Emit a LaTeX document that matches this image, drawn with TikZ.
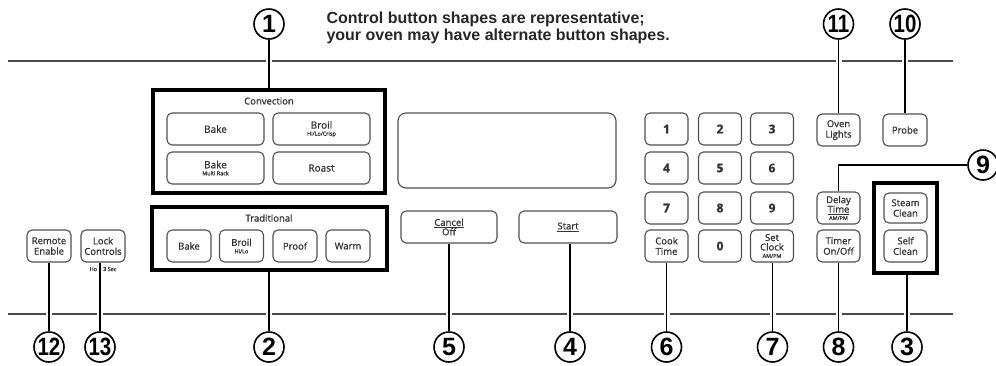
\documentclass[tikz,border=0pt]{standalone}
\usepackage{fontspec}
\setmainfont{Liberation Sans}
\newfontfamily\btnfont[FakeBold=1]{Open Sans}
\usetikzlibrary{calc}

\definecolor{btngray}{HTML}{505050}
\definecolor{txtgray}{HTML}{333333}
\definecolor{panelgray}{HTML}{4A4A4A}

\newcommand{\sub}[1]{{\fontsize{5.5}{6}\selectfont #1}}
\newcommand{\dnum}[1]{\scalebox{0.82}[1]{#1}}

\tikzset{
	btn/.style={draw=btngray, line width=1.1pt, rounded corners=5pt,
		minimum width=44pt, minimum height=32pt, inner sep=0pt, align=center,
		text=txtgray, font=\btnfont\fontsize{9.5}{10.5}\selectfont},
	key/.style={btn, font=\btnfont\bfseries\fontsize{12}{12}\selectfont},
	grp/.style={draw=black, line width=3.2pt, inner sep=0pt},
	num/.style={draw, circle, line width=1.6pt, fill=white, minimum size=30pt,
		inner sep=0pt, font=\bfseries\fontsize{25}{25}\selectfont},
	lead/.style={line width=1.6pt,
		preaction={draw=white, line width=6pt, shorten <=4pt, shorten >=4pt}},
	panel/.style={draw=panelgray, line width=1.3pt},
}

\begin{document}
\begin{tikzpicture}[x=1pt, y=-1pt]
		\useasboundingbox (0,0) rectangle (996,365);
		
		% note
		\node[anchor=north west, align=left, text=black!85,
			font=\bfseries\fontsize{16}{17.5}\selectfont] (note) at (323,8)
			{Control button shapes are representative;\\your oven may have alternate button shapes.};
		
		% panel edges
		\coordinate (TL) at (8,61);
		\coordinate (TR) at (953,61);
		\coordinate (BL) at (8,314);
		\coordinate (BR) at (953,314);
		\draw[panel] (TL) -- (TR);
		\draw[panel] (BL) -- (BR);
		
		% group boxes
		\node[grp, minimum width=232pt, minimum height=103pt] (conv) at (269,141.5) {};
		\node[grp, minimum width=235pt, minimum height=63pt] (trad) at (269.5,238.5) {};
		\node[grp, minimum width=63pt, minimum height=90pt] (clean) at (905.5,228) {};
		
		\node[text=txtgray, font=\btnfont\fontsize{9.5}{10}\selectfont] (convlbl) at (269,101) {Convection};
		\node[text=txtgray, font=\btnfont\fontsize{9.5}{10}\selectfont] (tradlbl) at (269,218) {Traditional};
		
		% convection buttons
		\node[btn, minimum width=97pt, font=\btnfont\fontsize{10}{10}\selectfont] (cbake) at (215.5,129) {Bake};
		\node[btn, minimum width=97pt, font=\btnfont\fontsize{10}{10}\selectfont] (cbroil) at (321.5,129) {Broil\\[-3pt]\sub{Hi/Lo/Crisp}};
		\node[btn, minimum width=97pt, font=\btnfont\fontsize{10}{10}\selectfont] (cmulti) at (215.5,168) {Bake\\[-3pt]\sub{Multi Rack}};
		\node[btn, minimum width=97pt, font=\btnfont\fontsize{10}{10}\selectfont] (croast) at (321.5,168) {Roast};
		
		% traditional buttons
		\node[btn] (tbake) at (189,246) {Bake};
		\node[btn] (tbroil) at (241.5,246) {Broil\\[-3pt]\sub{Hi/Lo}};
		\node[btn] (tproof) at (295,246) {Proof};
		\node[btn] (twarm) at (348,246) {Warm};
		
		% left buttons
		\node[btn] (remote) at (49,246) {Remote\\Enable};
		\node[btn] (lock) at (103,246) {Lock\\Controls};
		\node[text=txtgray, font=\btnfont\fontsize{5.5}{6}\selectfont] (hold) at (103,269) {Hold 3 Sec};
		
		% display and start/cancel
		\node[draw=btngray, line width=1.1pt, rounded corners=8pt,
			minimum width=218pt, minimum height=75pt] (disp) at (507,150.5) {};
		\node[btn, minimum width=96pt] (cancel) at (449,227) {\underline{Cancel}\\[-1pt]Off};
		\node[btn, minimum width=98pt] (start) at (568,227) {\underline{Start}};
		
		% keypad
		\foreach \k/\col/\row in {1/666.5/129, 2/720/129, 3/772/129,
			4/666.5/168, 5/720/168, 6/772/168,
			7/666.5/208, 8/720/208, 9/772/208, 0/720/246}
			\node[key, minimum width=43pt] (k\k) at (\col,\row) {\k};
		\node[btn, minimum width=43pt] (cook) at (666.5,246) {Cook\\Time};
		\node[btn, minimum width=43pt] (clock) at (772,246) {Set\\[-1pt]Clock\\[-3pt]\sub{AM/PM}};
		
		% right buttons
		\node[btn, minimum width=43pt] (lights) at (838.5,130) {Oven\\Lights};
		\node[btn] (probe) at (905,130) {Probe};
		\node[btn, minimum width=43pt] (delay) at (838.5,208) {Delay\\[-1pt]\underline{Time}\\[-3pt]\sub{AM/PM}};
		\node[btn, minimum width=43pt] (timer) at (838.5,246) {Timer\\On/Off};
		\node[btn, minimum width=43pt, minimum height=30pt] (steam) at (905.5,208) {Steam\\Clean};
		\node[btn, minimum width=43pt] (self) at (905.5,246) {Self\\Clean};
		
		% callout numbers
		\node[num] (n1) at (269,24) {1};
		\node[num] (n11) at (838.5,24) {\dnum{11}};
		\node[num] (n10) at (905,24) {\dnum{10}};
		\node[num] (n9) at (983,165) {9};
		\node[num] (n12) at (49,347) {\dnum{12}};
		\node[num] (n13) at (100,347) {\dnum{13}};
		\node[num] (n2) at (269,347) {2};
		\node[num] (n5) at (449,347) {5};
		\node[num] (n4) at (570,347) {4};
		\node[num] (n6) at (666.5,347) {6};
		\node[num] (n7) at (772.5,347) {7};
		\node[num] (n8) at (838.5,347) {8};
		\node[num] (n3) at (907,347) {3};
		
		% leaders
		\draw[lead] (n1.south) -- (n1 |- conv.north);
		\draw[lead] (n11.south) -- (n11 |- lights.north);
		\draw[lead] (n10.south) -- (n10 |- probe.north);
		\draw[lead] (delay.north) |- (n9.west);
		\draw[lead] (n12.north) -- (n12 |- remote.south);
		\draw[lead] (n13.north) -- (n13 |- lock.south);
		\draw[lead] (n2.north) -- (n2 |- trad.south);
		\draw[lead] (n5.north) -- (n5 |- cancel.south);
		\draw[lead] (n4.north) -- (n4 |- start.south);
		\draw[lead] (n6.north) -- (n6 |- cook.south);
		\draw[lead] (n7.north) -- (n7 |- clock.south);
		\draw[lead] (n8.north) -- (n8 |- timer.south);
		\draw[lead] (n3.north) -- (n3 |- clean.south);
	\end{tikzpicture}
\end{document}
